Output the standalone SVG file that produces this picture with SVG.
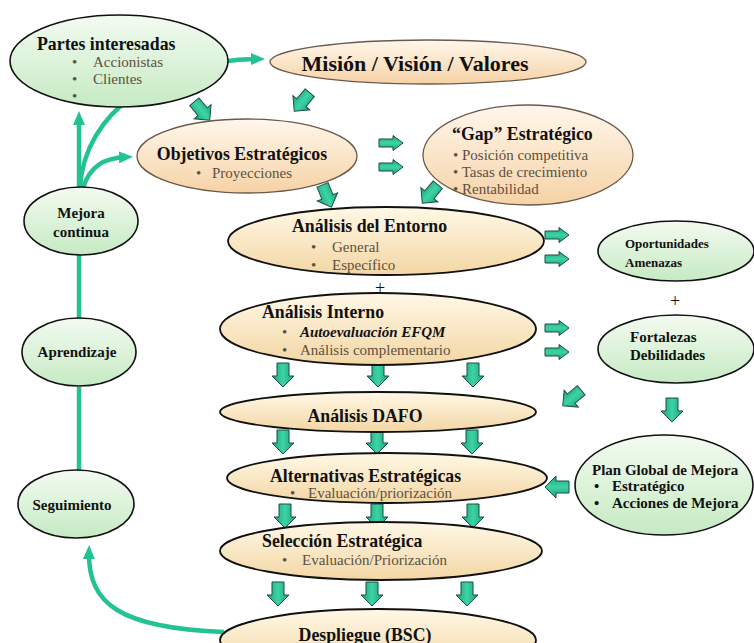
<svg xmlns="http://www.w3.org/2000/svg" width="754" height="643" viewBox="0 0 754 643" font-family="'Liberation Serif', 'DejaVu Serif', serif">
  <defs>
    <linearGradient id="peach" x1="0" y1="0" x2="0" y2="1">
      <stop offset="0" stop-color="#fff7ec"/>
      <stop offset="1" stop-color="#f6d2a6"/>
    </linearGradient>
    <linearGradient id="sand" x1="0" y1="0" x2="0" y2="1">
      <stop offset="0" stop-color="#fff8e6"/>
      <stop offset="1" stop-color="#f3d6a4"/>
    </linearGradient>
    <linearGradient id="mint" x1="0" y1="0" x2="0" y2="1">
      <stop offset="0" stop-color="#f3fbf1"/>
      <stop offset="1" stop-color="#c6eac3"/>
    </linearGradient>
    <linearGradient id="teal" x1="0" y1="0" x2="1" y2="0">
      <stop offset="0" stop-color="#14a57c"/>
      <stop offset="0.5" stop-color="#3ed3a4"/>
      <stop offset="1" stop-color="#14a57c"/>
    </linearGradient>
    <!-- block arrow pointing down, centred on origin -->
    <path id="blk" d="M -6 -12 H 6 V 1 H 11 L 0 12 L -11 1 H -6 Z"/>
    <!-- narrower block arrow pointing down -->
    <path id="blkS" d="M -4 -12 H 4 V 2 H 7.5 L 0 12 L -7.5 2 H -4 Z"/>
    <marker id="head" markerWidth="14" markerHeight="14" refX="7" refY="7" orient="auto" markerUnits="userSpaceOnUse">
      <path d="M 0 1 L 14 7 L 0 13 Z" fill="#22c293"/>
    </marker>
  </defs>
  <style>
    .bg { fill: #ffffff; }
    .peach { fill: url(#peach); stroke: #6b5a4a; stroke-width: 1.3; }
    .sand { fill: url(#sand); stroke: #111; stroke-width: 1.8; }
    .mint { fill: url(#mint); stroke: #111; stroke-width: 1.6; }
    text { font-family: "Liberation Serif", "DejaVu Serif", serif; fill: #111; }
    .t { font-weight: bold; font-size: 17.8px; }
    .big { font-size: 22px; }
    .b { font-size: 15px; fill: #5d5040; }
    .s { font-weight: bold; font-size: 15px; }
    .sm { font-size: 13px; }
    .plus { font-size: 18px; text-anchor: middle; }
    .mid { text-anchor: middle; }
    .flow { fill: none; stroke: #22c293; stroke-width: 4.5; }
    .ba use { fill: url(#teal); stroke: #1e4d40; stroke-width: 1; }
  </style>

  <rect class="bg" x="0" y="0" width="754" height="643"/>

  <!-- feedback loop lines -->
  <g id="connectors">
    <path class="flow" d="M 79 255 V 318 M 79 387 V 470"/>
    <path class="flow" d="M 79 188 V 118" marker-end="url(#head)"/>
    <path class="flow" d="M 80 188 C 84 112, 160 60, 258 59" marker-end="url(#head)"/>
    <path class="flow" d="M 83 188 C 90 166, 104 158, 126 157" marker-end="url(#head)"/>
    <path class="flow" d="M 224 632 C 120 628, 88 604, 89 552" marker-end="url(#head)"/>
  </g>

  <!-- block arrows -->
  <g id="block-arrows" class="ba">
    <use href="#blk" transform="translate(202,111) rotate(-40)"/>
    <use href="#blk" transform="translate(302,102) rotate(40)"/>
    <use href="#blk" transform="translate(327,196) rotate(-22)"/>
    <use href="#blk" transform="translate(430,194) rotate(40)"/>
    <use href="#blkS" transform="translate(391,143) rotate(-90)"/>
    <use href="#blkS" transform="translate(391,167) rotate(-90)"/>
    <use href="#blkS" transform="translate(557,235) rotate(-90)"/>
    <use href="#blkS" transform="translate(557,259) rotate(-90)"/>
    <use href="#blkS" transform="translate(557,328) rotate(-90)"/>
    <use href="#blkS" transform="translate(557,352) rotate(-90)"/>
    <use href="#blk" transform="translate(572,398) rotate(50)"/>
    <use href="#blk" transform="translate(672,410)"/>
    <use href="#blk" transform="translate(557,487) rotate(90)"/>
    <use href="#blk" transform="translate(283,375)"/>
    <use href="#blk" transform="translate(378,375)"/>
    <use href="#blk" transform="translate(473,375)"/>
    <use href="#blk" transform="translate(283,442)"/>
    <use href="#blk" transform="translate(377,442)"/>
    <use href="#blk" transform="translate(472,442)"/>
    <use href="#blk" transform="translate(285,516)"/>
    <use href="#blk" transform="translate(377,516)"/>
    <use href="#blk" transform="translate(473,516)"/>
    <use href="#blk" transform="translate(278,594)"/>
    <use href="#blk" transform="translate(372,594)"/>
    <use href="#blk" transform="translate(467,594)"/>
  </g>

  <g id="partes">
    <ellipse class="mint" cx="119" cy="61" rx="109" ry="46"/>
    <text class="t" x="37" y="50">Partes interesadas</text>
    <text class="b" x="72" y="67">•</text>
    <text class="b" x="93" y="67">Accionistas</text>
    <text class="b" x="72" y="84">•</text>
    <text class="b" x="93" y="84">Clientes</text>
    <text class="b" x="72" y="101">•</text>
  </g>

  <g id="mision">
    <ellipse class="peach" cx="428" cy="62" rx="158" ry="22"/>
    <text class="t big mid" x="415" y="71">Misión / Visión / Valores</text>
  </g>

  <g id="objetivos">
    <ellipse class="peach" cx="247" cy="156" rx="110" ry="37"/>
    <text class="t mid" x="242" y="160">Objetivos Estratégicos</text>
    <text class="b" x="196" y="178">•</text>
    <text class="b" x="212" y="178">Proyecciones</text>
  </g>

  <g id="gap">
    <ellipse class="peach" cx="528" cy="155" rx="105" ry="50"/>
    <text class="t" x="452" y="140">“Gap” Estratégico</text>
    <text class="b" x="453" y="160">• Posición competitiva</text>
    <text class="b" x="453" y="177">• Tasas de crecimiento</text>
    <text class="b" x="453" y="194">• Rentabilidad</text>
  </g>

  <g id="entorno">
    <ellipse class="sand" cx="386" cy="241" rx="158" ry="34"/>
    <text class="t" x="292" y="232">Análisis del Entorno</text>
    <text class="b" x="311" y="252">•</text>
    <text class="b" x="332" y="252">General</text>
    <text class="b" x="311" y="270">•</text>
    <text class="b" x="332" y="270">Específico</text>
  </g>

  <text class="plus" x="380" y="294">+</text>

  <g id="interno">
    <ellipse class="sand" cx="378" cy="329" rx="158" ry="36"/>
    <text class="t" x="262" y="318">Análisis Interno</text>
    <text class="b" x="282" y="337">•</text>
    <text class="b" x="300" y="337" style="font-weight:bold;font-style:italic;fill:#111">Autoevaluación EFQM</text>
    <text class="b" x="282" y="355">•</text>
    <text class="b" x="300" y="355">Análisis complementario</text>
  </g>

  <g id="dafo">
    <ellipse class="sand" cx="378" cy="412" rx="158" ry="20"/>
    <text class="t mid" x="365" y="422">Análisis DAFO</text>
  </g>

  <g id="alternativas">
    <ellipse class="sand" cx="387" cy="478" rx="160" ry="25"/>
    <text class="t" x="270" y="482">Alternativas Estratégicas</text>
    <text class="b" x="290" y="498">•</text>
    <text class="b" x="308" y="498">Evaluación/priorización</text>
  </g>

  <g id="seleccion">
    <ellipse class="sand" cx="381" cy="551" rx="161" ry="29"/>
    <text class="t" x="262" y="547">Selección Estratégica</text>
    <text class="b" x="282" y="565">•</text>
    <text class="b" x="302" y="565">Evaluación/Priorización</text>
  </g>

  <g id="despliegue">
    <ellipse class="sand" cx="378" cy="640" rx="158" ry="31"/>
    <text class="t mid" x="365" y="641">Despliegue (BSC)</text>
  </g>

  <g id="oportunidades">
    <ellipse class="mint" cx="676" cy="251" rx="78" ry="30"/>
    <text class="s sm" x="625" y="248">Oportunidades</text>
    <text class="s sm" x="625" y="267">Amenazas</text>
  </g>

  <text class="plus" x="675" y="307">+</text>

  <g id="fortalezas">
    <ellipse class="mint" cx="676" cy="349" rx="78" ry="34"/>
    <text class="s" x="630" y="342">Fortalezas</text>
    <text class="s" x="630" y="360">Debilidades</text>
  </g>

  <g id="plan">
    <ellipse class="mint" cx="664" cy="485" rx="89" ry="50"/>
    <text class="s" x="592" y="475">Plan Global de Mejora</text>
    <text class="s" x="594" y="491">•</text>
    <text class="s" x="612" y="491">Estratégico</text>
    <text class="s" x="594" y="508">•</text>
    <text class="s" x="612" y="508">Acciones de Mejora</text>
  </g>

  <g id="mejora">
    <ellipse class="mint" cx="81" cy="221" rx="57" ry="34"/>
    <text class="s mid" x="81" y="218">Mejora</text>
    <text class="s mid" x="81" y="237">continua</text>
  </g>

  <g id="aprendizaje">
    <ellipse class="mint" cx="79" cy="352" rx="57" ry="34"/>
    <text class="s mid" x="77" y="357">Aprendizaje</text>
  </g>

  <g id="seguimiento">
    <ellipse class="mint" cx="76" cy="504" rx="58" ry="34"/>
    <text class="s mid" x="72" y="510">Seguimiento</text>
  </g>
</svg>
